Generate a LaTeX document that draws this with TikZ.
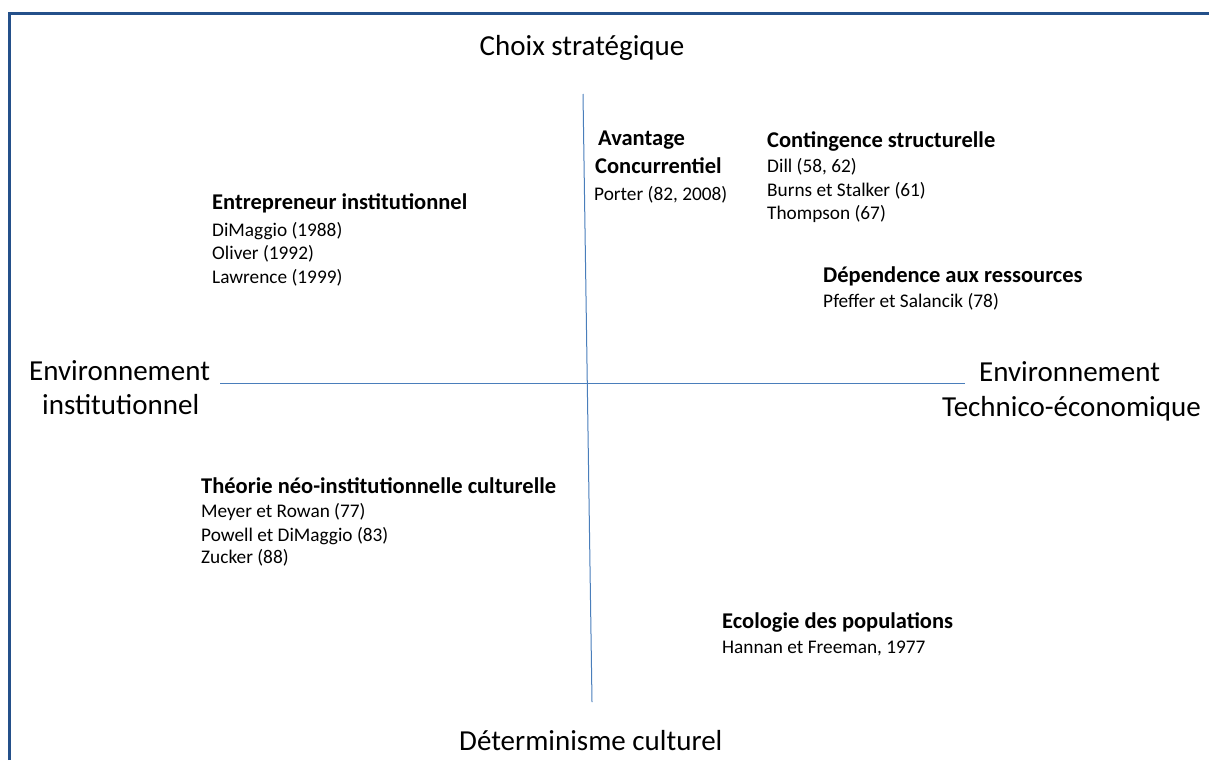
\documentclass[tikz,border=0pt]{standalone}
\usepackage{fontspec}
\setmainfont{Carlito}
\definecolor{axisblue}{HTML}{4A7EBB}
\definecolor{frameblue}{HTML}{24508A}
\begin{document}
\begin{tikzpicture}[x=1pt,y=-1pt,
 bigl/.style={anchor=base west, inner sep=0pt, font=\fontsize{29}{35}\selectfont},
 ttl/.style={anchor=base west, inner sep=0pt, font=\fontsize{22.5}{27}\selectfont\bfseries},
 ref/.style={anchor=base west, inner sep=0pt, font=\fontsize{19.3}{23}\selectfont},
 axisline/.style={draw=axisblue, line width=1pt},
 frameline/.style={draw=frameblue, line width=3pt}]
\useasboundingbox (0,0) rectangle (1209,760);
% frame
\coordinate (fA) at (9.5,760);
\coordinate (fB) at (9.5,13.5);
\coordinate (fC) at (1209,13.5);
\draw[frameline] (fA) -- (fB) -- (fC);
% axes
\coordinate (vtop) at (583,94);
\coordinate (vbot) at (592,702);
\coordinate (hl) at (220,383);
\coordinate (hr) at (965,383);
\draw[axisline] (vtop) -- (vbot);
\draw[axisline] (hl) -- (hr);
% axis labels
\node[bigl, anchor=base] (top) at (582,56) {Choix stratégique};
\node[bigl] (l1) at (29,380) {Environnement};
\node[bigl] (l2) at (42,414) {institutionnel};
\node[bigl] (r1) at (979,381) {Environnement};
\node[bigl] (r2) at (942,416) {Technico-économique};
\node[bigl] (bot) at (459,750) {Déterminisme culturel};
% Avantage concurrentiel
\node[ttl] (av1) at (598,145) {Avantage};
\node[ttl] (av2) at (595,173) {Concurrentiel};
\node[ref] (av3) at (594,200) {Porter (82, 2008)};
% Contingence structurelle
\node[ttl] (cs0) at (767,147) {Contingence structurelle};
\node[ref] (cs1) at (767,172) {Dill (58, 62)};
\node[ref] (cs2) at (767,196) {Burns et Stalker (61)};
\node[ref] (cs3) at (767,219) {Thompson (67)};
% Dependence
\node[ttl] (dr0) at (823,282) {Dépendence aux ressources};
\node[ref] (dr1) at (823,307) {Pfeffer et Salancik (78)};
% Entrepreneur
\node[ttl] (ei0) at (212,209) {Entrepreneur institutionnel};
\node[ref] (ei1) at (212,236) {DiMaggio (1988)};
\node[ref] (ei2) at (212,259) {Oliver (1992)};
\node[ref] (ei3) at (212,283) {Lawrence (1999)};
% Theorie
\node[ttl] (th0) at (201,493) {Théorie néo-institutionnelle culturelle};
\node[ref] (th1) at (201,517) {Meyer et Rowan (77)};
\node[ref] (th2) at (201,541) {Powell et DiMaggio (83)};
\node[ref] (th3) at (201,563) {Zucker (88)};
% Ecologie
\node[ttl] (ec0) at (722,628) {Ecologie des populations};
\node[ref] (ec1) at (722,653) {Hannan et Freeman, 1977};
\end{tikzpicture}
\end{document}
